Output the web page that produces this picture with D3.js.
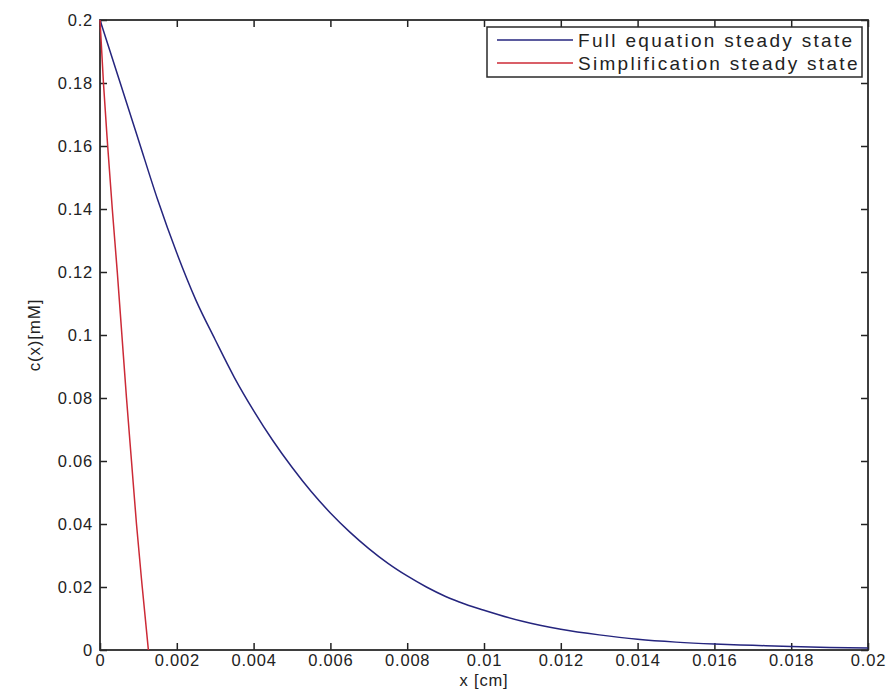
<!DOCTYPE html>
<html>
<head>
<meta charset="utf-8">
<script src="https://cdn.jsdelivr.net/npm/d3@7"></script>
<style>
  body { margin: 0; background: #fff; }
  svg text { font-family: "Liberation Sans", Arial, sans-serif; fill: #222; }
</style>
</head>
<body>
<div id="chart"></div>
<script>
// values
const fullX = [0, 0.0005, 0.001, 0.0015, 0.002, 0.0025, 0.003, 0.0035, 0.004, 0.0045, 0.005, 0.0055,
  0.006, 0.0065, 0.007, 0.0075, 0.008, 0.0085, 0.009, 0.0095, 0.01, 0.011, 0.012, 0.013, 0.014,
  0.015, 0.016, 0.017, 0.018, 0.019, 0.02];
const fullC = [0.2, 0.181, 0.162, 0.143, 0.126, 0.111, 0.0985, 0.0865, 0.076, 0.0665, 0.058, 0.0503,
  0.0435, 0.0375, 0.0322, 0.0275, 0.0235, 0.020, 0.017, 0.0146, 0.0126, 0.0091, 0.0066, 0.0048, 0.0034,
  0.0025, 0.0019, 0.0015, 0.0011, 0.0008, 0.0006];
const simpX = [0, 0.00009, 0.0002, 0.00032, 0.00045, 0.00057, 0.00069, 0.00082, 0.00095, 0.0011, 0.00126];
const simpC = [0.2, 0.18, 0.16, 0.14, 0.12, 0.10, 0.08, 0.06, 0.04, 0.02, 0];
const xTicks = [0, 0.002, 0.004, 0.006, 0.008, 0.01, 0.012, 0.014, 0.016, 0.018, 0.02];
const yTicks = [0, 0.02, 0.04, 0.06, 0.08, 0.1, 0.12, 0.14, 0.16, 0.18, 0.2];
const seriesNames = ["Full equation steady state", "Simplification steady state"];
const seriesColors = ["#25257e", "#cc2a36"];

const W = 892, H = 690;
const margin = { left: 100, right: 24, top: 20, bottom: 40 };
const pw = W - margin.left - margin.right, ph = H - margin.top - margin.bottom;

const svg = d3.select("#chart").append("svg").attr("width", W).attr("height", H);
const g = svg.append("g").attr("transform", `translate(${margin.left},${margin.top})`);

const x = d3.scaleLinear().domain([0, 0.02]).range([0, pw]);
const y = d3.scaleLinear().domain([0, 0.2]).range([ph, 0]);
const fmt = d => String(+d.toFixed(4));

// box ticks, MATLAB style: inward on all four sides
const tl = 7;
g.append("g").attr("transform", `translate(0,${ph})`)
  .call(d3.axisBottom(x).tickValues(xTicks).tickFormat(fmt).tickSize(-tl).tickPadding(4));
g.append("g").call(d3.axisTop(x).tickValues(xTicks).tickFormat("").tickSize(-tl));
g.append("g").call(d3.axisLeft(y).tickValues(yTicks).tickFormat(fmt).tickSize(-tl).tickPadding(7));
g.append("g").attr("transform", `translate(${pw},0)`)
  .call(d3.axisRight(y).tickValues(yTicks).tickFormat("").tickSize(-tl));
g.selectAll(".domain").remove();
g.selectAll(".tick line").attr("stroke", "#222").attr("stroke-width", 1.5);
g.selectAll(".tick text").attr("font-size", 16.5).attr("letter-spacing", 0.8)
  .attr("font-family", "Liberation Sans, Arial, sans-serif").attr("fill", "#222");

g.append("rect").attr("width", pw).attr("height", ph)
  .attr("fill", "none").attr("stroke", "#2a2a2a").attr("stroke-width", 1.8);

const line = d3.line().curve(d3.curveMonotoneX).x(d => x(d[0])).y(d => y(d[1]));
const series = [d3.zip(fullX, fullC), d3.zip(simpX, simpC)];
g.selectAll(".series").data(series).join("path")
  .attr("class", "series")
  .attr("d", line)
  .attr("fill", "none")
  .attr("stroke", (d, i) => seriesColors[i])
  .attr("stroke-width", 1.5);

// axis labels
svg.append("text").attr("x", margin.left + pw / 2).attr("y", 686)
  .attr("text-anchor", "middle").attr("font-size", 16.5).attr("letter-spacing", 0.8).text("x [cm]");
svg.append("text").attr("transform", `translate(40,${margin.top + ph / 2}) rotate(-90)`)
  .attr("text-anchor", "middle").attr("font-size", 17).attr("letter-spacing", 0.8).text("c(x)[mM]");

// legend
const lg = svg.append("g").attr("transform", "translate(487,27)");
lg.append("rect").attr("width", 375).attr("height", 50)
  .attr("fill", "#fff").attr("stroke", "#2a2a2a").attr("stroke-width", 1.5);
seriesNames.forEach((name, i) => {
  const yy = 13 + i * 23;
  lg.append("line").attr("x1", 10).attr("x2", 86).attr("y1", yy).attr("y2", yy)
    .attr("stroke", seriesColors[i]).attr("stroke-width", 1.5);
  lg.append("text").attr("x", 91).attr("y", yy + 7).attr("font-size", 19)
    .attr("letter-spacing", 2.3).text(name);
});
</script>
</body>
</html>
